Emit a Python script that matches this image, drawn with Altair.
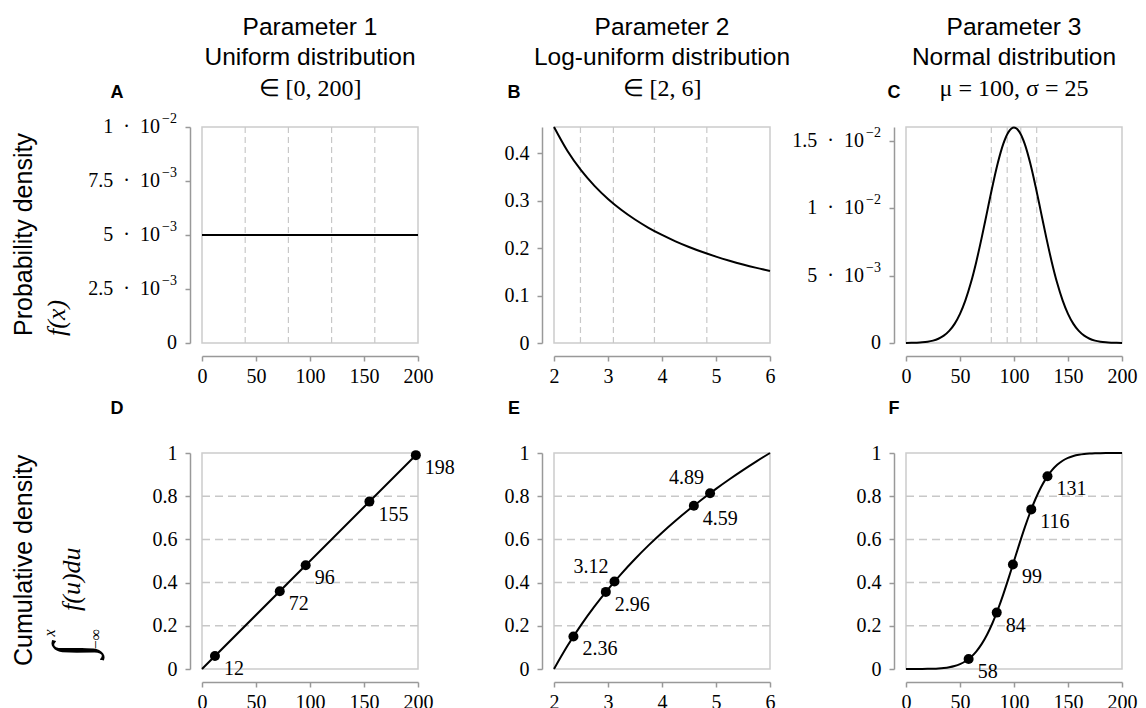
import altair as alt
import pandas as pd

SANS = "Liberation Sans"
SERIF = "Liberation Serif"

# ---------------- data ----------------
uni_x = [0, 200]
uni_pdf = [0.005, 0.005]
uni_cdf = [0.0, 1.0]

log_x = [2.0, 2.25, 2.5, 2.75, 3.0, 3.25, 3.5, 3.75, 4.0, 4.25, 4.5, 4.75, 5.0, 5.25, 5.5, 5.75, 6.0]
log_pdf = [0.4551, 0.4045, 0.3641, 0.3310, 0.3034, 0.2801, 0.2601, 0.2427, 0.2276, 0.2142,
           0.2023, 0.1916, 0.1820, 0.1734, 0.1655, 0.1583, 0.1517]
log_cdf = [0.0, 0.1072, 0.2031, 0.2899, 0.3691, 0.4419, 0.5094, 0.5722, 0.6309, 0.6861,
           0.7381, 0.7874, 0.8340, 0.8785, 0.9208, 0.9613, 1.0]

norm_x = [0, 5, 10, 15, 20, 25, 30, 35, 40, 45, 50, 55, 60, 65, 70, 75, 80, 85, 90, 95, 100,
          105, 110, 115, 120, 125, 130, 135, 140, 145, 150, 155, 160, 165, 170, 175, 180, 185, 190, 195, 200]
norm_pdf = [0.0000054, 0.0000117, 0.0000245, 0.0000493, 0.0000954, 0.000177, 0.000317, 0.000543,
            0.000896, 0.001419, 0.00216, 0.003158, 0.004437, 0.005989, 0.007768, 0.009679,
            0.011587, 0.013329, 0.014731, 0.015642, 0.015958,
            0.015642, 0.014731, 0.013329, 0.011587, 0.009679, 0.007768, 0.005989, 0.004437,
            0.003158, 0.00216, 0.001419, 0.000896, 0.000543, 0.000317, 0.000177, 0.0000954,
            0.0000493, 0.0000245, 0.0000117, 0.0000054]
norm_cdf = [0.00003, 0.00007, 0.00016, 0.00034, 0.00069, 0.00135, 0.00256, 0.00466, 0.0082,
            0.0139, 0.02275, 0.03593, 0.0548, 0.08076, 0.11507, 0.15866, 0.21186, 0.27425,
            0.34458, 0.42074, 0.5, 0.57926, 0.65542, 0.72575, 0.78814, 0.84134, 0.88493,
            0.91924, 0.9452, 0.96407, 0.97725, 0.9861, 0.9918, 0.99534, 0.99744, 0.99865,
            0.99931, 0.99966, 0.99984, 0.99993, 0.99997]

# quantile (dashed) lines
uni_quant = [40, 80, 120, 160]
log_quant = [2.49, 3.10, 3.86, 4.83]
norm_quant = [79.0, 93.7, 106.3, 121.0]
cdf_levels = [0.2, 0.4, 0.6, 0.8]

# sampled points
uni_pts_x = [12, 72, 96, 155, 198]
uni_pts_y = [0.06, 0.36, 0.48, 0.775, 0.99]
uni_pts_lab = ["12", "72", "96", "155", "198"]
uni_pts_pos = ["br", "br", "br", "br", "br"]

log_pts_x = [2.36, 2.96, 3.12, 4.59, 4.89]
log_pts_y = [0.1507, 0.3569, 0.4048, 0.7562, 0.8138]
log_pts_lab = ["2.36", "2.96", "3.12", "4.59", "4.89"]
log_pts_pos = ["br", "br", "tl", "br", "tl"]

norm_pts_x = [58, 84, 99, 116, 131]
norm_pts_y = [0.0465, 0.2611, 0.4840, 0.7389, 0.8925]
norm_pts_lab = ["58", "84", "99", "116", "131"]
norm_pts_pos = ["br", "br", "br", "br", "br"]

# axis ticks and labels
x200_ticks = [0, 50, 100, 150, 200]
x26_ticks = [2, 3, 4, 5, 6]
uni_y_ticks = [0, 0.0025, 0.005, 0.0075, 0.01]
uni_y_base = ["0", "2.5\u2002·\u200210", "5\u2002·\u200210", "7.5\u2002·\u200210", "1\u2002·\u200210"]
uni_y_exp = ["", "−3", "−3", "−3", "−2"]
log_y_ticks = [0, 0.1, 0.2, 0.3, 0.4]
norm_y_ticks = [0, 0.005, 0.01, 0.015]
norm_y_base = ["0", "5\u2002·\u200210", "1\u2002·\u200210", "1.5\u2002·\u200210"]
norm_y_exp = ["", "−3", "−2", "−2"]
cdf_y_ticks = [0, 0.2, 0.4, 0.6, 0.8, 1]

col_titles = [["Parameter 1", "Uniform distribution"],
              ["Parameter 2", "Log-uniform distribution"],
              ["Parameter 3", "Normal distribution"]]
col_math = ["∈ [0, 200]", "∈ [2, 6]", "μ = 100, σ = 25"]

W, H = 216, 216


def txt(s, x, y, size, font, weight="normal", style="normal", align="center",
        baseline="alphabetic", angle=0):
    return alt.Chart(pd.DataFrame({"t": [s]})).mark_text(
        font=font, fontSize=size, fontWeight=weight, fontStyle=style, align=align,
        baseline=baseline, angle=angle, color="black"
    ).encode(text="t:N", x=alt.value(x), y=alt.value(y))


def panel(cx, cy, xdom, xticks, ydom, yticks, ysci=None, vrules=None, hrules=None,
          pts=None, extras=()):
    xs = alt.Scale(domain=xdom, nice=False, zero=False)
    ys = alt.Scale(domain=ydom, nice=False, zero=False)
    xax = alt.Axis(values=xticks, offset=13, format="d", title=None, labelPadding=5,
                   labelFlush=False, labelOverlap=False)
    if ysci is not None:
        yax = alt.Axis(values=yticks, offset=12, labels=False, title=None)
    else:
        yax = alt.Axis(values=yticks, offset=12, format="~g", title=None, labelFlush=False,
                       labelOverlap=False)
    X = lambda f: alt.X(f, scale=xs, axis=xax)
    Y = lambda f: alt.Y(f, scale=ys, axis=yax)
    layers = []
    if vrules is not None:
        layers.append(alt.Chart(pd.DataFrame({"q": vrules})).mark_rule(
            color="#c8c8c8", strokeDash=[6, 4], strokeWidth=1.2).encode(x=X("q:Q")))
    if hrules is not None:
        layers.append(alt.Chart(pd.DataFrame({"q": hrules})).mark_rule(
            color="#c8c8c8", strokeDash=[8, 5], strokeWidth=1.5).encode(y=Y("q:Q")))
    curve = alt.Chart(pd.DataFrame({"x": cx, "y": cy})).mark_line(
        color="black", strokeWidth=2, interpolate="monotone").encode(x=X("x:Q"), y=Y("y:Q"))
    layers.append(curve)
    if ysci is not None:
        base_l, exp_l = ysci
        tdf = alt.Chart(pd.DataFrame({"v": yticks, "b": base_l, "e": exp_l}))
        layers.append(tdf.transform_filter("datum.e != ''").mark_text(
            font=SERIF, fontSize=20, align="right", baseline="middle", color="black"
        ).encode(y=Y("v:Q"), x=alt.value(-42), text="b:N"))
        layers.append(tdf.transform_filter("datum.e == ''").mark_text(
            font=SERIF, fontSize=20, align="right", baseline="middle", color="black"
        ).encode(y=Y("v:Q"), x=alt.value(-25), text="b:N"))
        layers.append(tdf.transform_filter("datum.e != ''").mark_text(
            font=SERIF, fontSize=14, align="right", baseline="middle", dy=-8, color="black"
        ).encode(y=Y("v:Q"), x=alt.value(-25), text="e:N"))
    if pts is not None:
        px, py, pl, pp = pts
        pdf = pd.DataFrame({"x": px, "y": py, "lab": pl, "pos": pp})
        base = alt.Chart(pdf)
        layers.append(base.mark_circle(size=100, color="black", opacity=1).encode(
            x=X("x:Q"), y=Y("y:Q")))
        layers.append(base.transform_filter("datum.pos == 'br'").mark_text(
            font=SERIF, fontSize=20, align="left", baseline="alphabetic", dx=9, dy=19,
            color="black").encode(x=X("x:Q"), y=Y("y:Q"), text="lab:N"))
        layers.append(base.transform_filter("datum.pos == 'tl'").mark_text(
            font=SERIF, fontSize=20, align="right", baseline="alphabetic", dx=-6, dy=-9,
            color="black").encode(x=X("x:Q"), y=Y("y:Q"), text="lab:N"))
    layers.extend(extras)
    return alt.layer(*layers).properties(width=W, height=H)


def col_head(i, letter, dx_letter):
    return [
        txt(col_titles[i][0], W / 2, -92, 24.5, SANS),
        txt(col_titles[i][1], W / 2, -62, 24.5, SANS),
        txt(col_math[i], W / 2, -31, 24, SERIF),
        txt(letter, dx_letter, -29, 18, SANS, weight="bold"),
    ]


row1_label = [
    txt("Probability density", -178, 209, 25, SANS, align="left", baseline="middle", angle=270),
    txt("f(x)", -145, 209, 26, SERIF, style="italic", align="left", baseline="middle", angle=270),
]
row2_label = [
    txt("Cumulative density", -178, 213, 25, SANS, align="left", baseline="middle", angle=270),
    txt("∫", -128, 197, 54, SERIF, align="center", baseline="middle", angle=270),
    txt("x", -152, 180, 16, SERIF, style="italic", align="center", baseline="middle", angle=270),
    txt("−∞", -106, 186, 16, SERIF, align="center", baseline="middle", angle=270),
    txt("f(u)du", -130, 158, 26, SERIF, style="italic", align="left", baseline="middle", angle=270),
]

pA = panel(uni_x, uni_pdf, [0, 200], x200_ticks, [0, 0.01], uni_y_ticks,
           ysci=(uni_y_base, uni_y_exp),
           vrules=uni_quant, extras=col_head(0, "A", -85) + row1_label)
pB = panel(log_x, log_pdf, [2, 6], x26_ticks, [0, 0.455], log_y_ticks,
           vrules=log_quant, extras=col_head(1, "B", -40))
pC = panel(norm_x, norm_pdf, [0, 200], x200_ticks, [0, 0.016], norm_y_ticks,
           ysci=(norm_y_base, norm_y_exp),
           vrules=norm_quant, extras=col_head(2, "C", -12))

pD = panel(uni_x, uni_cdf, [0, 200], x200_ticks, [0, 1], cdf_y_ticks, hrules=cdf_levels,
           pts=(uni_pts_x, uni_pts_y, uni_pts_lab, uni_pts_pos),
           extras=[txt("D", -85, -39, 18, SANS, weight="bold")] + row2_label)
pE = panel(log_x, log_cdf, [2, 6], x26_ticks, [0, 1], cdf_y_ticks, hrules=cdf_levels,
           pts=(log_pts_x, log_pts_y, log_pts_lab, log_pts_pos),
           extras=[txt("E", -40, -39, 18, SANS, weight="bold")])
pF = panel(norm_x, norm_cdf, [0, 200], x200_ticks, [0, 1], cdf_y_ticks, hrules=cdf_levels,
           pts=(norm_pts_x, norm_pts_y, norm_pts_lab, norm_pts_pos),
           extras=[txt("F", -12, -39, 18, SANS, weight="bold")])

chart = alt.concat(pA, pB, pC, pD, pE, pF, columns=3,
                   spacing={"row": 110, "column": 136}, bounds="flush").properties(
    padding={"left": 3, "top": 6, "right": 0, "bottom": 0},
    background="white",
).configure_view(stroke="#cccccc", strokeWidth=1.5).configure_axis(
    domainColor="#999999", domainWidth=1.5, tickColor="#999999", tickWidth=1.5,
    tickSize=5, labelFont=SERIF, labelFontSize=20, labelColor="black", grid=False,
    labelPadding=8,
)

chart.save("out.html", embed_options={"renderer": "svg", "actions": False})
